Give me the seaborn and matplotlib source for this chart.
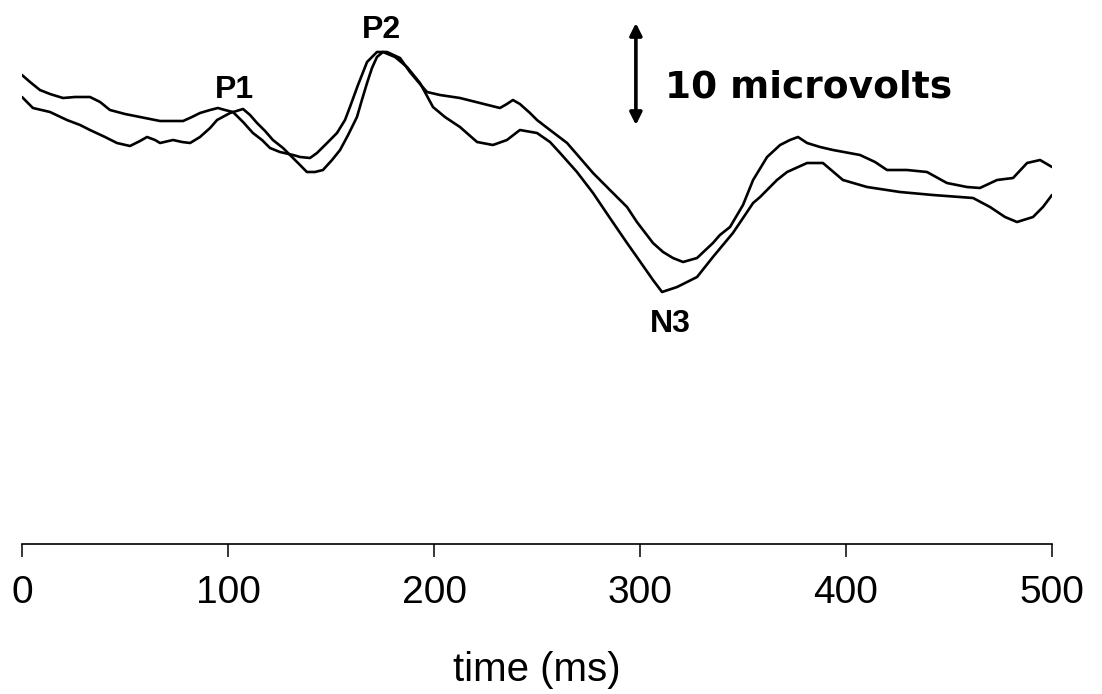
import seaborn as sns
import pandas as pd
import numpy as np
import matplotlib.pyplot as plt

# two ERP waveforms, time in ms, amplitude in microvolts (positive up)
time_a = [0, 3.9, 8.7, 13.6, 19.9, 25.7, 33.0, 37.9, 42.7, 50.0, 57.3, 67.0, 78.2, 82.5,
          86.4, 91.3, 95.1, 98.5, 102.4, 107.3, 112.1, 116.5, 120.4, 125.2, 131.6, 135.0,
          139.8, 143.2, 148.1, 152.9, 156.8, 159.2, 163.1, 167.5, 172.3, 177.2, 183.5,
          188.3, 193.2, 196.6, 202.9, 212.6, 222.3, 232.0, 235.4, 238.3, 241.7, 246.6,
          250.0, 256.3, 264.6, 270.9, 277.2, 285.4, 293.7, 298.5, 306.3, 311.2, 316.0,
          320.9, 327.7, 335.4, 338.8, 343.7, 350.0, 354.9, 361.7, 368.0, 372.8, 376.7,
          381.1, 387.4, 393.7, 406.8, 414.1, 419.9, 429.6, 439.3, 449.0, 458.7, 465.0,
          473.3, 481.1, 487.9, 494.2, 500.0]
amp_a = [12.5, 11.8, 11.0, 10.6, 10.2, 10.3, 10.3, 9.8, 9.0, 8.6, 8.3, 7.9, 7.9, 8.3,
         8.7, 9.0, 9.2, 9.0, 8.8, 7.8, 6.7, 6.0, 5.2, 4.8, 4.5, 4.3,
         4.2, 4.7, 5.7, 6.7, 8.0, 9.3, 11.5, 13.8, 14.8, 14.8, 14.2,
         12.8, 11.6, 10.8, 10.5, 10.2, 9.7, 9.2, 9.6, 10.0, 9.6, 8.7,
         8.0, 7.0, 5.7, 4.2, 2.7, 1.0, -0.7, -2.2, -4.3, -5.2, -5.8,
         -6.2, -5.8, -4.3, -3.5, -2.7, -0.5, 2.0, 4.3, 5.5, 6.0, 6.3,
         5.7, 5.3, 5.0, 4.5, 3.8, 3.0, 3.0, 2.8, 1.7, 1.3, 1.2,
         2.0, 2.2, 3.7, 4.0, 3.3]

time_b = [0, 5.3, 13.6, 21.8, 28.2, 33.0, 40.3, 46.1, 52.4, 57.3, 60.7, 64.6, 67.0, 73.3,
          77.7, 81.6, 86.4, 91.3, 94.7, 101.0, 107.3, 110.7, 114.1, 118.0, 121.8, 126.7,
          130.1, 134.0, 138.3, 142.2, 146.1, 150.5, 154.4, 158.3, 162.6, 165.0, 167.5,
          169.9, 172.3, 175.2, 181.1, 186.9, 193.2, 199.5, 205.3, 212.6, 220.9, 228.6,
          235.4, 241.7, 250.0, 256.3, 261.2, 269.4, 277.2, 285.4, 293.7, 298.5, 306.3,
          310.7, 318.0, 327.7, 335.4, 345.1, 351.0, 354.9, 358.3, 366.5, 371.4, 381.1,
          388.8, 398.5, 410.2, 426.2, 442.2, 461.7, 469.9, 477.2, 483.0, 490.8, 495.6, 500.0]
amp_b = [10.3, 9.2, 8.8, 8.0, 7.5, 7.0, 6.3, 5.7, 5.4, 5.9, 6.3, 6.0, 5.7, 6.0,
         5.8, 5.7, 6.3, 7.2, 8.0, 8.7, 9.1, 8.5, 7.7, 6.9, 6.0, 5.2,
         4.5, 3.7, 2.8, 2.8, 3.0, 4.0, 5.0, 6.5, 8.3, 10.0, 11.7,
         13.2, 14.3, 14.8, 14.3, 13.3, 11.7, 9.3, 8.3, 7.3, 5.8, 5.5,
         6.0, 7.0, 6.7, 5.8, 4.7, 2.8, 0.7, -1.8, -4.3, -5.7, -8.0,
         -9.2, -8.7, -7.7, -5.7, -3.3, -1.5, -0.3, 0.3, 2.0, 2.8, 3.7,
         3.7, 2.0, 1.3, 0.8, 0.5, 0.2, -0.7, -1.7, -2.2, -1.7, -0.7, 0.5]

xticks = [0, 100, 200, 300, 400, 500]
peaks = {"P1": (102.9, 10.2), "P2": (174.3, 16.2), "N3": (314.6, -13.2)}

sns.set_style("white")
plt.rcParams["font.family"] = ["Liberation Sans", "DejaVu Sans"]
plt.rcParams["text.color"] = "black"
plt.rcParams["axes.labelcolor"] = "black"
plt.rcParams["xtick.color"] = "black"

fig = plt.figure(figsize=(11.02, 6.94), dpi=100)
ax = fig.add_axes([22 / 1102, 1 - 544 / 694, 1030 / 1102, 544 / 694])

sns.lineplot(x=time_a, y=amp_a, color="black", linewidth=1.9, ax=ax)
sns.lineplot(x=time_b, y=amp_b, color="black", linewidth=1.9, ax=ax)

ax.set_xlim(0, 500)
ax.set_ylim(-34.4, 20)
ax.set_yticks([])
ax.set_xticks(xticks)
ax.tick_params(axis="x", direction="out", length=9, width=1.1, pad=13,
               labelsize=28, color="black", bottom=True)
ax.set_xlabel("time (ms)", fontsize=29, labelpad=29)
for s in ["left", "top", "right"]:
    ax.spines[s].set_visible(False)
ax.spines["bottom"].set_color("black")
ax.spines["bottom"].set_linewidth(1.2)

for name, (t, v) in peaks.items():
    ax.text(t, v, name, ha="center", va="baseline", fontsize=23, fontweight="bold")

# 10 microvolt scale bar
ax.annotate("", xy=(298, 17.7), xytext=(298, 7.5),
            arrowprops=dict(arrowstyle="<|-|>", color="black", lw=2.6,
                            mutation_scale=18, shrinkA=0, shrinkB=0))
ax.text(312, 10.3, "10 microvolts", ha="left", va="baseline", fontsize=27,
        fontweight="bold", family=["DejaVu Sans"])

fig.savefig("out.png", dpi=100)
